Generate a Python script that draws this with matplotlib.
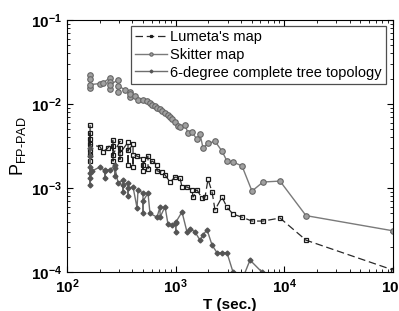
import numpy as np
import matplotlib
matplotlib.use("Agg")
import matplotlib.pyplot as plt
from matplotlib.ticker import FuncFormatter

plt.rcParams['font.family'] = ['Liberation Sans', 'DejaVu Sans']
plt.rcParams['mathtext.fontset'] = 'custom'
plt.rcParams['mathtext.rm'] = 'Liberation Sans'
plt.rcParams['mathtext.bf'] = 'Liberation Sans:bold'

# Lumeta's map (dashed, open squares)
lumeta_t = [163, 163, 163, 163, 163, 163, 163, 201, 214, 238, 265, 265, 265,
            265, 307, 307, 307, 307, 364, 364, 364, 405, 405, 405, 441, 500,
            500, 500, 556, 556, 605, 673, 673, 748, 798, 887, 986, 1096, 1143,
            1271, 1413, 1443, 1571, 1747, 1862, 1983, 2160, 2300, 2669, 2966,
            3370, 4077, 5036, 6362, 9120, 15820, 100000]
lumeta_p = [0.0056, 0.0025, 0.0045, 0.0021, 0.0038, 0.0028, 0.0033, 0.0031,
            0.0027, 0.0030, 0.0037, 0.0021, 0.0032, 0.0025, 0.0036, 0.0022,
            0.0030, 0.0026, 0.0035, 0.0019, 0.0028, 0.0033, 0.0018, 0.0025,
            0.0024, 0.0022, 0.0016, 0.0019, 0.0024, 0.0017, 0.0021, 0.0019,
            0.0016, 0.00155, 0.00143, 0.00118, 0.00135, 0.00132, 0.00103,
            0.00103, 0.00095, 0.00078, 0.00095, 0.00076, 0.00078, 0.00127,
            0.0009, 0.00055, 0.00078, 0.00059, 0.00049, 0.00045, 0.000405,
            0.000405, 0.00044, 0.00024, 0.000106]

# Skitter map (solid, gray circles)
skitter_t = [163, 163, 163, 163, 201, 214, 249, 249, 249, 249, 295, 295, 295,
             342, 380, 380, 380, 423, 450, 500, 544, 580, 605, 646, 673, 718,
             748, 798, 850, 887, 925, 986, 1050, 1096, 1219, 1298, 1413, 1571,
             1674, 1784, 1983, 2300, 2669, 2966, 3370, 4077, 5036, 6362, 9120,
             15820, 100000]
skitter_p = [0.0221, 0.0155, 0.0200, 0.0170, 0.0175, 0.0178, 0.0205, 0.0150,
             0.0185, 0.0170, 0.0193, 0.0140, 0.0165, 0.0147, 0.0139, 0.0120,
             0.0130, 0.0125, 0.0110, 0.0112, 0.0108, 0.0103, 0.0098, 0.0095,
             0.0090, 0.0086, 0.0083, 0.0079, 0.0073, 0.0070, 0.0066, 0.0061,
             0.0055, 0.0053, 0.0056, 0.0045, 0.0046, 0.0038, 0.0044, 0.0030,
             0.0034, 0.0036, 0.00275, 0.00209, 0.00204, 0.00183, 0.00092,
             0.00118, 0.00121, 0.00047, 0.00031]

# 6-degree complete tree topology (solid, small diamonds)
tree_t = [163, 163, 163, 163, 163, 163, 170, 201, 224, 224, 224, 249, 276,
          276, 276, 295, 328, 328, 328, 364, 364, 364, 405, 441, 450, 500,
          500, 500, 556, 580, 673, 718, 718, 798, 850, 925, 1000, 1000, 1000,
          1143, 1271, 1355, 1507, 1674, 1784, 1942, 2160, 2400, 2669, 2966,
          3370, 3900, 4830, 6223, 7000]
tree_p = [0.0030, 0.0013, 0.0024, 0.0011, 0.0018, 0.0015, 0.0016, 0.00178,
          0.0016, 0.0013, 0.00164, 0.00164, 0.0019, 0.0014, 0.00175, 0.00115,
          0.00125, 0.00090, 0.0011, 0.00115, 0.00080, 0.0010, 0.00103,
          0.00058, 0.00095, 0.00087, 0.00050, 0.0007, 0.00087, 0.0005,
          0.00045, 0.0006, 0.00045, 0.0006, 0.00037, 0.00036, 0.00038,
          0.00030, 0.00039, 0.00052, 0.00030, 0.00033, 0.00030, 0.00024,
          0.000275, 0.00032, 0.00021, 0.00017, 0.00017, 0.00017, 0.0001,
          0.00007, 0.000139, 0.0001, 0.00007]


def pow10(v, pos):
    return r'$\mathbf{10^{%d}}$' % int(round(np.log10(v)))


fig = plt.figure(figsize=(3.99, 3.11), dpi=100)
ax = fig.add_axes([0.168, 0.125, 0.817, 0.811])

ax.plot(lumeta_t, lumeta_p, color='#2a2a2a', linestyle=(0, (6, 3)), lw=0.9,
        marker='s', markersize=3.5, mfc='none', mec='#1a1a1a', mew=0.9,
        label="Lumeta's map")
ax.plot(skitter_t, skitter_p, color='#7a7a7a', lw=1.0,
        marker='o', markersize=4, mfc='#a0a0a0', mec='#666666', mew=0.8,
        label='Skitter map')
ax.plot(tree_t, tree_p, color='#6e6e6e', lw=1.0,
        marker='D', markersize=2.5, mfc='#555555', mec='#555555',
        label='6-degree complete tree topology')

ax.set_xscale('log')
ax.set_yscale('log')
ax.set_xlim(1e2, 1e5)
ax.set_ylim(1e-4, 1e-1)
ax.xaxis.set_major_formatter(FuncFormatter(pow10))
ax.yaxis.set_major_formatter(FuncFormatter(pow10))

ax.tick_params(which='both', direction='in', top=True, right=True,
               labelsize=11)
ax.tick_params(which='major', length=4)
ax.tick_params(which='minor', length=2)
for s in ax.spines.values():
    s.set_linewidth(0.8)

ax.set_xlabel('T (sec.)', fontsize=11, fontweight='bold', labelpad=2)
ax.set_ylabel(r'P$_{\mathrm{FP\text{-}PAD}}$', fontsize=13, labelpad=2)

leg = ax.legend(loc='upper right', bbox_to_anchor=(0.988, 0.988),
                prop={'size': 10.5}, frameon=True, fancybox=False,
                edgecolor='#222222', handlelength=2.2, borderpad=0.3,
                labelspacing=0.25, handletextpad=0.2, borderaxespad=0.2,
                markerscale=0.6)
leg.get_frame().set_linewidth(0.9)

fig.savefig('out.png', dpi=100)
